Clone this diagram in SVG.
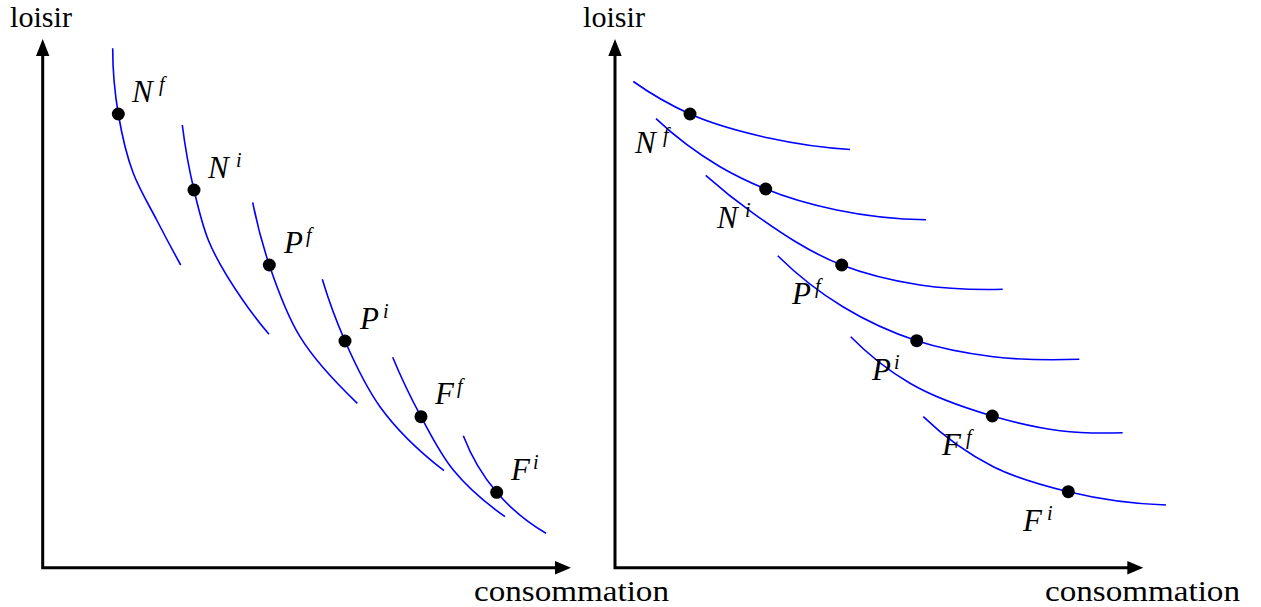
<svg xmlns="http://www.w3.org/2000/svg" width="1261" height="607" viewBox="0 0 1261 607">
<style>
.axis{fill:none;stroke:#000;stroke-width:3;stroke-linejoin:miter}
.head{fill:#000}
.curve{fill:none;stroke:#0000ff;stroke-width:1.6}
.dot{fill:#000}
text{font-family:'Liberation Serif','Times New Roman',serif;fill:#000}
.lbl{font-style:italic;font-size:31px}
.sup{font-size:20px}
.ax{font-size:29px}
</style>
<rect width="1261" height="607" fill="#fff"/>
<g id="left-axes">
<polyline class="axis" points="42.7,54 42.7,567.7 556,567.7"/>
<path class="head" d="M42.7,39 L49.4,56 L36,56 Z"/>
<path class="head" d="M571,567.7 L555,561 L555,574.4 Z"/>
<text class="ax" x="10" y="27" textLength="62" lengthAdjust="spacingAndGlyphs">loisir</text>
<text class="ax" x="474" y="601" textLength="195" lengthAdjust="spacingAndGlyphs">consommation</text>
</g>
<g id="right-axes">
<polyline class="axis" points="615,54 615,567.7 1128,567.7"/>
<path class="head" d="M615,39 L621.7,56 L608.3,56 Z"/>
<path class="head" d="M1143.3,567.7 L1127.3,561 L1127.3,574.4 Z"/>
<text class="ax" x="583" y="27" textLength="62" lengthAdjust="spacingAndGlyphs">loisir</text>
<text class="ax" x="1045" y="601" textLength="195" lengthAdjust="spacingAndGlyphs">consommation</text>
</g>
<g id="connectors">
<path class="curve" d="M112.7,48.3 C112.7,70.3 114.6,92.3 118.3,114 C121.75,134.1 126,154.25 133.3,173.3 C139.5,189.55 148.7,204.55 156.7,220 C164.5,235.1 172.5,250.1 180.7,265"/>
<path class="curve" d="M182.3,125 C185,146.9 188.9,168.6 194,190 C198,206.8 201.9,223.9 208.3,240 C216.9,261.4 229.6,281 242.7,300 C250.9,311.9 259.6,323.3 269,334.3"/>
<path class="curve" d="M252.7,202.3 C256.9,223.7 262.4,244.6 269.3,265 C277.6,289.6 286.6,314.8 300,336.7 C315.1,361.4 336.2,383.1 357.3,403.3"/>
<path class="curve" d="M322.3,279.3 C328.6,300.4 336.2,321 345,341 C355,363.7 365.7,386.8 380,406.7 C397.4,431 419.9,452 444,470.7"/>
<path class="curve" d="M392.7,357.3 C401.1,377.7 410.6,397.5 421,416.7 C430.9,434.9 440.3,454.1 453.3,470 C467.8,487.8 486,503.2 505,516.7"/>
<path class="curve" d="M463.3,435.7 C471.5,457 482.7,475.9 496.7,492.3 C510.4,508.3 526.8,522 546,533.3"/>
<path class="curve" d="M633.3,81.5 C651.4,94.3 670.2,105.1 690,114 C715.3,125.3 742.9,132.3 770,138.3 C796.2,144.1 822.9,147.8 850,149.5"/>
<path class="curve" d="M656,118.7 C675.7,137.3 697.1,153.3 720,166.7 C734.6,175.2 750.1,182.6 765.7,189 C788.5,198.3 812.6,205 836.7,210 C865.9,216.1 895.7,219.4 926,219.7"/>
<path class="curve" d="M705.7,175.3 C721,188.9 736.8,201.5 753.3,213.3 C781,233.1 810.2,252.7 841.7,265 C866.6,274.7 893.5,280.9 920,285 C947.2,289.2 975.1,289.9 1002.7,289.3"/>
<path class="curve" d="M777.7,255.7 C797.9,275.6 819.7,292.7 843.3,307 C866.2,320.9 891.3,332.4 916.7,340.7 C941.3,348.8 967.5,353.5 993.3,356.7 C1021.7,360.2 1050.6,360.2 1079.3,359.3"/>
<path class="curve" d="M850.7,336.7 C868.8,355.1 888.6,370.6 910,383.3 C935.2,398.2 964.1,407.7 992.3,416 C1014.4,422.5 1037.2,428 1060,430.7 C1080.7,433.2 1101.8,433.3 1122.7,432.7"/>
<path class="curve" d="M923.3,416.7 C944.6,437.3 968,454 993.3,466.7 C1016.6,478.4 1042.8,485.5 1068.3,491.7 C1100.1,499.4 1132.7,503.9 1166,505"/>
</g>
<g id="L-Nf"><circle class="dot" cx="118.3" cy="114" r="6.5"/><text class="lbl" x="132" y="102">N<tspan class="sup" x="159" y="91">f</tspan></text></g>
<g id="L-Ni"><circle class="dot" cx="194" cy="190" r="6.5"/><text class="lbl" x="208" y="178">N<tspan class="sup" x="236" y="167">i</tspan></text></g>
<g id="L-Pf"><circle class="dot" cx="269.3" cy="265" r="6.5"/><text class="lbl" x="284" y="253">P<tspan class="sup" x="306" y="242">f</tspan></text></g>
<g id="L-Pi"><circle class="dot" cx="345" cy="341" r="6.5"/><text class="lbl" x="360" y="329">P<tspan class="sup" x="383" y="318">i</tspan></text></g>
<g id="L-Ff"><circle class="dot" cx="421" cy="416.7" r="6.5"/><text class="lbl" x="435" y="404">F<tspan class="sup" x="457" y="393">f</tspan></text></g>
<g id="L-Fi"><circle class="dot" cx="496.7" cy="492.3" r="6.5"/><text class="lbl" x="511" y="480">F<tspan class="sup" x="533" y="469">i</tspan></text></g>
<g id="R-Nf"><circle class="dot" cx="690" cy="114" r="6.5"/><text class="lbl" x="635" y="153">N<tspan class="sup" x="663" y="142">f</tspan></text></g>
<g id="R-Ni"><circle class="dot" cx="765.7" cy="189" r="6.5"/><text class="lbl" x="717" y="228">N<tspan class="sup" x="745" y="217">i</tspan></text></g>
<g id="R-Pf"><circle class="dot" cx="841.7" cy="265" r="6.5"/><text class="lbl" x="792" y="304">P<tspan class="sup" x="815" y="293">f</tspan></text></g>
<g id="R-Pi"><circle class="dot" cx="916.7" cy="340.7" r="6.5"/><text class="lbl" x="872" y="380">P<tspan class="sup" x="894" y="369">i</tspan></text></g>
<g id="R-Ff"><circle class="dot" cx="992.3" cy="416" r="6.5"/><text class="lbl" x="942" y="455">F<tspan class="sup" x="966" y="444">f</tspan></text></g>
<g id="R-Fi"><circle class="dot" cx="1068.3" cy="491.7" r="6.5"/><text class="lbl" x="1023" y="531">F<tspan class="sup" x="1047" y="520">i</tspan></text></g>
</svg>
